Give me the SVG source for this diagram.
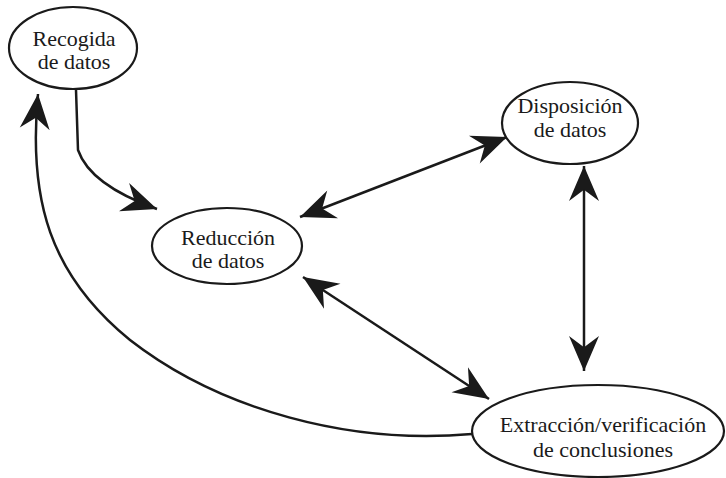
<svg xmlns="http://www.w3.org/2000/svg" width="726" height="478" viewBox="0 0 726 478">
<style>
.node ellipse{fill:#fff;stroke:#1a1a1a;stroke-width:2.2}
.node text{font-family:'Liberation Serif','Times New Roman',serif;font-size:22px;fill:#1a1a1a;text-anchor:middle}
.conn path{fill:none;stroke:#1a1a1a;stroke-width:2.5}
</style>
<defs>
<marker id="ah" markerUnits="userSpaceOnUse" markerWidth="40" markerHeight="40" viewBox="-30 -15 32 30" refX="0" refY="0" orient="auto-start-reverse">
<path d="M0,0 L-28,-12 L-19,0 L-28,12 Z" fill="#1a1a1a"/>
</marker>
</defs>
<rect width="726" height="478" fill="#fff"/>
<g id="connectors" class="conn">
<path d="M76,90 L78,150 Q90,185 157,209" marker-end="url(#ah)"/>
<path d="M472,434 C350,445 220,410 130,340 C50,275 28,200 38,94" marker-end="url(#ah)"/>
<path d="M300,217 L507,137" marker-start="url(#ah)" marker-end="url(#ah)"/>
<path d="M303,277 L489,399" marker-start="url(#ah)" marker-end="url(#ah)"/>
<path d="M584,166 L584,371" marker-start="url(#ah)" marker-end="url(#ah)"/>
</g>
<g id="recogida" class="node">
<ellipse cx="73" cy="48" rx="64" ry="41"/>
<text x="74" y="46">Recogida</text>
<text x="74" y="69">de datos</text>
</g>
<g id="reduccion" class="node">
<ellipse cx="227" cy="246" rx="75" ry="38"/>
<text x="228" y="245">Reducción</text>
<text x="228" y="268">de datos</text>
</g>
<g id="disposicion" class="node">
<ellipse cx="570" cy="123" rx="68" ry="41"/>
<text x="570" y="113">Disposición</text>
<text x="570" y="137">de datos</text>
</g>
<g id="extraccion" class="node">
<ellipse cx="598" cy="431" rx="126" ry="46"/>
<text x="603" y="432">Extracción/verificación</text>
<text x="603" y="457">de conclusiones</text>
</g>
</svg>
